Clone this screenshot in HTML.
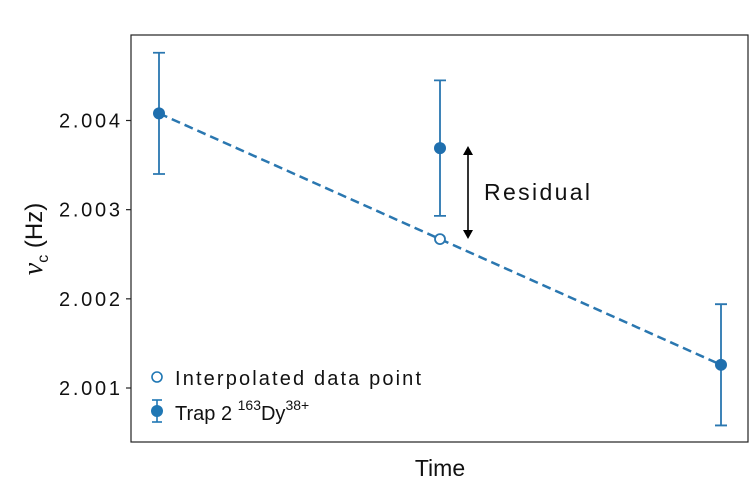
<!DOCTYPE html>
<html><head><meta charset="utf-8"><style>
html,body{margin:0;padding:0;background:#fff;}
svg{display:block;font-family:"Liberation Sans",sans-serif;}
</style></head><body>
<svg width="750" height="484" viewBox="0 0 750 484">
<rect x="131" y="35" width="617" height="407" fill="none" stroke="#222" stroke-width="1.2"/>
<g id="yticks"></g>
<g id="marks"></g>
<text x="440" y="476" font-size="23" text-anchor="middle" fill="#111">Time</text>
<text transform="translate(42,239) rotate(-90)" font-size="24" text-anchor="middle" fill="#111"><tspan font-family="Liberation Serif" font-style="italic" font-size="28">ν</tspan><tspan font-size="16" dy="6">c</tspan><tspan dy="-6"> (Hz)</tspan></text>
<g>
<line x1="468" y1="152" x2="468" y2="233" stroke="#000" stroke-width="1.6"/>
<path d="M463,155 L468,146 L473,155 Z M463,230 L468,239 L473,230 Z" fill="#000"/>
<text x="484" y="200" font-size="23" textLength="106" fill="#111">Residual</text>
</g>
<g>
<circle cx="157" cy="377" r="5" fill="#fff" stroke="#1f77b4" stroke-width="1.6"/>
<text x="175" y="385" font-size="20" textLength="246" fill="#111">Interpolated data point</text>
<line x1="157" y1="400" x2="157" y2="422" stroke="#1f77b4" stroke-width="1.6"/>
<line x1="152" y1="400" x2="162" y2="400" stroke="#1f77b4" stroke-width="1.6"/>
<line x1="152" y1="422" x2="162" y2="422" stroke="#1f77b4" stroke-width="1.6"/>
<circle cx="157" cy="411" r="6" fill="#1f77b4"/>
<text x="175" y="420" font-size="20" fill="#111">Trap 2 <tspan font-size="14" dy="-10">163</tspan><tspan dy="10">Dy</tspan><tspan font-size="14" dy="-10">38+</tspan></text>
</g>
</svg>
<script>
const times=[0,0.5,1];
const values=[2.00408,2.00369,2.00126];
const errors=[0.00068,0.00076,0.00068];
const interpTime=[0.5];
const interpValue=[2.00267];
const yTicks=[2.001,2.002,2.003,2.004];
const yTickLabels=["2.001","2.002","2.003","2.004"];
const NS="http://www.w3.org/2000/svg";
function xs(t){return 159+t*562;}
function ys(v){return 388-(v-2.001)/0.003*267.5;}
function mk(tag,attrs,parent){const e=document.createElementNS(NS,tag);for(const k in attrs)e.setAttribute(k,attrs[k]);parent.appendChild(e);return e;}
const yt=document.getElementById('yticks');
yTicks.forEach((v,i)=>{
  const l=mk('line',{x1:126,x2:131,y1:ys(v),y2:ys(v),stroke:'#222','stroke-width':1.2},yt);
  
  
  const t=mk('text',{x:120,y:ys(v)+7,'font-size':20,'text-anchor':'end',fill:'#111',textLength:61},yt);
  t.textContent=yTickLabels[i];
  
  
});
const g=document.getElementById('marks');
const ln=mk('line',{x1:xs(times[0]),y1:ys(values[0]),x2:xs(times[2]),y2:ys(values[2]),stroke:'#2a77b0','stroke-width':2.5,'stroke-dasharray':'9,5'},g);


times.forEach((t,i)=>{
  const x=xs(t),y1=ys(values[i]+errors[i]),y2=ys(values[i]-errors[i]);
  const eb=mk('path',{d:`M${x},${y1}V${y2}M${x-6},${y1}H${x+6}M${x-6},${y2}H${x+6}`,stroke:'#2a77b0','stroke-width':1.8,fill:'none'},g);
  
  
  const c=mk('circle',{cx:x,cy:ys(values[i]),r:6,fill:'#1f6fae'},g);
  
  
});
interpTime.forEach((t,i)=>{
  const c=mk('circle',{cx:xs(t),cy:ys(interpValue[i]),r:5,fill:'#fff',stroke:'#2a77b0','stroke-width':1.8},g);
  
  
});
</script>
</body></html>
